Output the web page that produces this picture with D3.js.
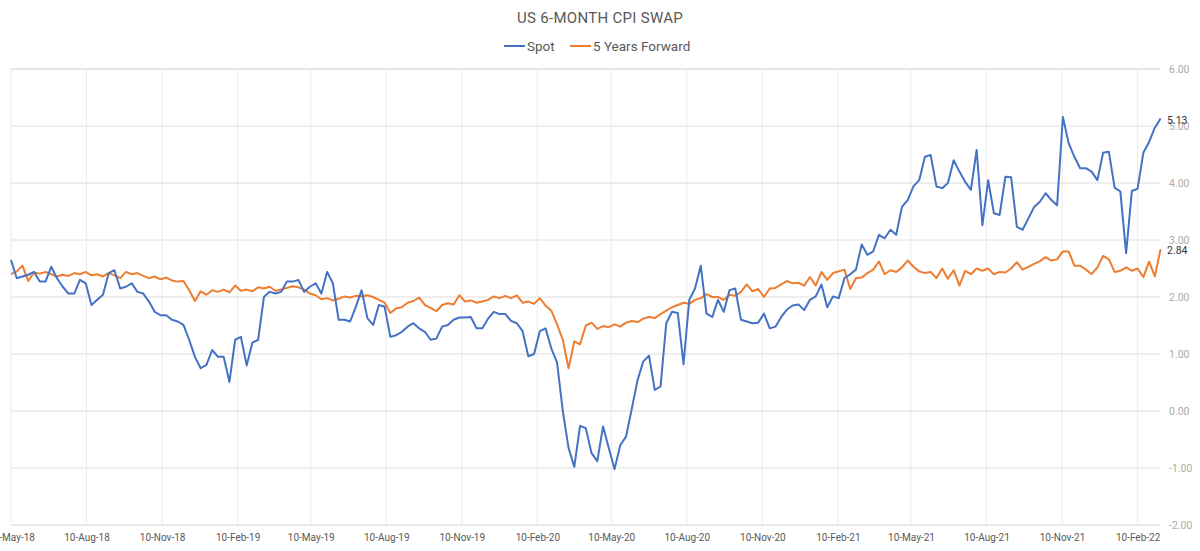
<!DOCTYPE html>
<html>
<head>
<meta charset="utf-8">
<script src="https://cdn.jsdelivr.net/npm/d3@7"></script>
<style>
  body { margin: 0; background: #fff; }
  svg { display: block; font-family: Roboto, "Open Sans", sans-serif; }
</style>
</head>
<body>
<svg id="chart"></svg>
<script>
// weekly observations, first one on 10-May-18
const startDate = "2018-05-10";
const seriesNames = ["Spot", "5 Years Forward"];

const spot = [
  2.65, 2.33, 2.36, 2.39, 2.44, 2.27, 2.27, 2.53, 2.33, 2.18,
  2.06, 2.06, 2.30, 2.24, 1.86, 1.95, 2.04, 2.42, 2.47, 2.15,
  2.18, 2.24, 2.09, 2.06, 1.92, 1.74, 1.68, 1.68, 1.60, 1.57,
  1.51, 1.25, 0.95, 0.75, 0.81, 1.07, 0.95, 0.95, 0.51, 1.25,
  1.30, 0.80, 1.20, 1.25, 2.00, 2.09, 2.06, 2.09, 2.27, 2.27,
  2.30, 2.09, 2.18, 2.24, 2.06, 2.44, 2.24, 1.60, 1.60, 1.57,
  1.83, 2.12, 1.63, 1.51, 1.86, 1.83, 1.30, 1.33, 1.39, 1.48,
  1.54, 1.45, 1.39, 1.25, 1.27, 1.48, 1.51, 1.60, 1.64, 1.64,
  1.65, 1.45, 1.45, 1.62, 1.74, 1.70, 1.70, 1.58, 1.54, 1.40,
  0.96, 1.00, 1.40, 1.45, 1.10, 0.85, 0.00, -0.65, -0.98, -0.26,
  -0.30, -0.74, -0.88, -0.27, -0.65, -1.02, -0.60, -0.45, 0.04, 0.54,
  0.87, 0.97, 0.37, 0.43, 1.54, 1.74, 1.72, 0.82, 1.95, 2.15,
  2.55, 1.71, 1.65, 1.95, 1.74, 2.12, 2.15, 1.60, 1.57, 1.54,
  1.55, 1.71, 1.45, 1.48, 1.65, 1.78, 1.85, 1.87, 1.77, 1.95,
  2.01, 2.22, 1.82, 2.01, 1.98, 2.33, 2.40, 2.48, 2.92, 2.74,
  2.80, 3.09, 3.03, 3.18, 3.09, 3.58, 3.70, 3.94, 4.05, 4.46,
  4.49, 3.94, 3.91, 4.00, 4.40, 4.20, 4.02, 3.88, 4.58, 3.26,
  4.05, 3.47, 3.44, 4.11, 4.10, 3.23, 3.18, 3.38, 3.58, 3.67,
  3.82, 3.70, 3.61, 5.16, 4.70, 4.46, 4.26, 4.26, 4.20, 4.05,
  4.53, 4.55, 3.92, 3.85, 2.77, 3.86, 3.90, 4.53, 4.72, 4.97,
  5.13
];

const fwd5y = [
  2.40, 2.45, 2.55, 2.28, 2.43, 2.41, 2.44, 2.40, 2.36, 2.39,
  2.37, 2.42, 2.40, 2.44, 2.38, 2.40, 2.36, 2.42, 2.38, 2.33,
  2.44, 2.40, 2.42, 2.37, 2.33, 2.36, 2.31, 2.34, 2.29, 2.27,
  2.28, 2.12, 1.93, 2.10, 2.04, 2.12, 2.09, 2.13, 2.08, 2.20,
  2.11, 2.13, 2.10, 2.17, 2.15, 2.18, 2.11, 2.13, 2.16, 2.19,
  2.17, 2.13, 2.06, 2.03, 1.96, 1.98, 1.94, 1.97, 2.01, 1.99,
  2.02, 2.01, 2.03, 2.00, 1.95, 1.90, 1.72, 1.80, 1.82, 1.90,
  1.93, 1.99, 1.86, 1.81, 1.75, 1.86, 1.89, 1.87, 2.03, 1.92,
  1.94, 1.90, 1.92, 1.95, 2.01, 1.98, 2.02, 1.98, 2.03, 1.90,
  1.92, 1.88, 1.98, 1.85, 1.76, 1.52, 1.25, 0.75, 1.22, 1.17,
  1.50, 1.55, 1.44, 1.49, 1.47, 1.52, 1.48, 1.55, 1.58, 1.56,
  1.62, 1.65, 1.63, 1.70, 1.76, 1.82, 1.86, 1.90, 1.88, 1.95,
  1.98, 2.05, 2.00, 2.00, 1.95, 2.04, 2.02, 2.09, 2.22, 2.10,
  2.14, 2.00, 2.15, 2.16, 2.22, 2.28, 2.24, 2.25, 2.20, 2.35,
  2.20, 2.44, 2.30, 2.42, 2.45, 2.48, 2.14, 2.33, 2.34, 2.42,
  2.48, 2.62, 2.40, 2.47, 2.44, 2.52, 2.64, 2.53, 2.45, 2.42,
  2.44, 2.33, 2.50, 2.32, 2.47, 2.20, 2.46, 2.40, 2.50, 2.46,
  2.50, 2.40, 2.44, 2.43, 2.50, 2.61, 2.48, 2.53, 2.58, 2.63,
  2.70, 2.64, 2.66, 2.80, 2.80, 2.55, 2.55, 2.48, 2.40, 2.52,
  2.72, 2.66, 2.44, 2.46, 2.52, 2.46, 2.50, 2.35, 2.62, 2.36,
  2.84
];

const xTickDates = [
  "2018-05-10", "2018-08-10", "2018-11-10", "2019-02-10", "2019-05-10",
  "2019-08-10", "2019-11-10", "2020-02-10", "2020-05-10", "2020-08-10",
  "2020-11-10", "2021-02-10", "2021-05-10", "2021-08-10", "2021-11-10",
  "2022-02-10"
];
const yTicks = [-2, -1, 0, 1, 2, 3, 4, 5, 6];

const colors = ["#4472C4", "#ED7D31"];
const width = 1200, height = 551;
const plotLeft = 11, plotRight = 1160, plotTop = 69, plotBottom = 525;

const parse = d3.utcParse("%Y-%m-%d");
const fmtDate = d3.utcFormat("%d-%b-%y");
const start = parse(startDate);

const svg = d3.select("#chart")
    .attr("width", width)
    .attr("height", height);

const x = d3.scaleUtc()
    .domain([parse("2018-05-10"), parse("2022-02-10")])
    .range([plotLeft, 1137.6]);

const y = d3.scaleLinear()
    .domain([-2, 6])
    .range([plotBottom, plotTop]);

// grid
const grid = svg.append("g");
grid.selectAll("line.v")
    .data(xTickDates.map(parse))
    .join("line")
    .attr("class", "v")
    .attr("x1", d => x(d)).attr("x2", d => x(d))
    .attr("y1", plotTop).attr("y2", plotBottom)
    .attr("stroke", "#ececec")
    .attr("stroke-width", 1);

grid.selectAll("line.h")
    .data(yTicks)
    .join("line")
    .attr("class", "h")
    .attr("x1", plotLeft).attr("x2", plotRight)
    .attr("y1", d => y(d)).attr("y2", d => y(d))
    .attr("stroke", d => d === -2 ? "#d4d4d4" : "#dedede")
    .attr("stroke-width", d => d === 6 ? 1.5 : 1);

// y axis on the right, labels only
const yAxis = svg.append("g")
    .attr("transform", `translate(${plotRight + 9},0)`)
    .call(d3.axisRight(y).tickValues(yTicks).tickSize(0).tickPadding(0)
        .tickFormat(d => d.toFixed(2)));
yAxis.select(".domain").remove();
yAxis.selectAll("text")
    .attr("fill", "#ababab")
    .attr("font-size", "10.5px")
    .attr("font-family", "Roboto, sans-serif");

// x axis labels
const xAxis = svg.append("g")
    .attr("transform", `translate(0,${plotBottom})`)
    .call(d3.axisBottom(x).tickValues(xTickDates.map(parse)).tickSize(0).tickPadding(9)
        .tickFormat(fmtDate));
xAxis.select(".domain").remove();
xAxis.selectAll("text")
    .attr("fill", "#595959")
    .attr("font-size", "10px")
    .attr("font-family", "Roboto, sans-serif");

// series
const series = [spot, fwd5y].map((vals, i) => ({
  name: seriesNames[i],
  color: colors[i],
  points: vals.map((v, j) => ({ date: d3.utcDay.offset(start, 7 * j), value: v }))
}));

const line = d3.line()
    .x(d => x(d.date))
    .y(d => y(d.value));

svg.append("g")
    .selectAll("path")
    .data(series.slice().reverse())
    .join("path")
    .attr("d", d => line(d.points))
    .attr("fill", "none")
    .attr("stroke", d => d.color)
    .attr("stroke-width", 2)
    .attr("stroke-linejoin", "round");

// last value labels
svg.append("g")
    .selectAll("text")
    .data(series)
    .join("text")
    .attr("x", plotRight + 7)
    .attr("y", d => y(d.points[d.points.length - 1].value) + 5)
    .attr("font-size", "10.5px")
    .attr("fill", "#333")
    .text(d => d.points[d.points.length - 1].value.toFixed(2));

// title
svg.append("text")
    .attr("x", 600)
    .attr("y", 23)
    .attr("text-anchor", "middle")
    .attr("font-size", "15px")
    .attr("fill", "#595959")
    .attr("letter-spacing", "0.3px")
    .text("US 6-MONTH CPI SWAP");

// legend
const legendItems = [
  { x: 504, text: seriesNames[0], color: colors[0] },
  { x: 570, text: seriesNames[1], color: colors[1] }
];
const legend = svg.append("g");
legend.selectAll("line")
    .data(legendItems)
    .join("line")
    .attr("x1", d => d.x).attr("x2", d => d.x + 21)
    .attr("y1", 46).attr("y2", 46)
    .attr("stroke", d => d.color)
    .attr("stroke-width", 2);
legend.selectAll("text")
    .data(legendItems)
    .join("text")
    .attr("x", d => d.x + 23)
    .attr("y", 51)
    .attr("font-size", "13.5px")
    .attr("fill", "#595959")
    .text(d => d.text);
</script>
</body>
</html>
